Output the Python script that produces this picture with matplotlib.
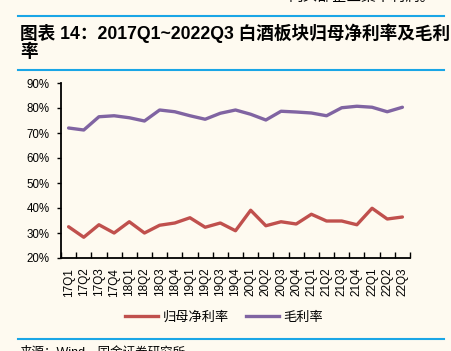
import matplotlib
matplotlib.use("Agg")
import matplotlib.pyplot as plt
from matplotlib.lines import Line2D
from matplotlib.ticker import FixedLocator, PercentFormatter

plt.rcParams['font.family'] = ['Liberation Sans', 'Noto Sans CJK SC', 'DejaVu Sans']

quarters = ["17Q1", "17Q2", "17Q3", "17Q4", "18Q1", "18Q2", "18Q3", "18Q4",
            "19Q1", "19Q2", "19Q3", "19Q4", "20Q1", "20Q2", "20Q3", "20Q4",
            "21Q1", "21Q2", "21Q3", "21Q4", "22Q1", "22Q2", "22Q3"]
net_margin = [32.5, 28.3, 33.3, 30.0, 34.5, 30.0, 33.1, 34.0, 36.1, 32.3, 34.0, 30.9,
              39.1, 32.9, 34.5, 33.6, 37.5, 34.8, 34.8, 33.3, 39.9, 35.6, 36.4]
gross_margin = [72.0, 71.2, 76.5, 76.9, 76.1, 74.8, 79.2, 78.5, 76.9, 75.5, 77.9, 79.2,
                77.5, 75.2, 78.7, 78.4, 78.0, 76.9, 80.1, 80.7, 80.3, 78.5, 80.3]
series_names = ["归母净利率", "毛利率"]
yticks = [20, 30, 40, 50, 60, 70, 80, 90]

bg = '#FEFAF0'
W, H = 452, 351
fig = plt.figure(figsize=(W / 100, H / 100), dpi=100, facecolor=bg)

ax = fig.add_axes([61 / W, 1 - 258 / H, 349 / W, 175 / H], facecolor=bg)
x = list(range(len(quarters)))
ax.plot(x, net_margin, color='#C0504D', lw=2.4, solid_capstyle='round')
ax.plot(x, gross_margin, color='#8064A2', lw=2.4, solid_capstyle='round')

ax.set_xlim(-0.5, len(quarters) - 0.5)
ax.set_ylim(20, 90)
ax.set_yticks(yticks)
ax.yaxis.set_major_formatter(PercentFormatter(decimals=0))
ax.set_xticks(x)
ax.set_xticklabels(quarters, rotation=90, fontsize=8.5)
ax.xaxis.set_minor_locator(FixedLocator([i - 0.5 for i in range(len(quarters) + 1)]))
ax.tick_params(axis='x', which='major', length=0, pad=7)
ax.tick_params(axis='x', which='minor', direction='in', length=4, width=1, color='black')
ax.tick_params(axis='y', direction='out', length=3, width=1, pad=5, labelsize=8.3)
for s in ['top', 'right']:
    ax.spines[s].set_visible(False)
for s in ['left', 'bottom']:
    ax.spines[s].set_linewidth(1.3)
    ax.spines[s].set_color('black')

handles = [Line2D([], [], color='#C0504D', lw=2.4), Line2D([], [], color='#8064A2', lw=2.4)]
fig.legend(handles, series_names, loc='center', bbox_to_anchor=(224 / W, 1 - 317 / H),
           ncol=2, frameon=False, handlelength=2.5, handletextpad=0.3, columnspacing=1.3,
           prop={'family': ['Noto Sans CJK SC'], 'size': 9.5})

blue = '#1AA6E6'
fig.add_artist(Line2D([18 / W, 444 / W], [1 - 16 / H, 1 - 16 / H], color=blue, lw=1.5))
fig.add_artist(Line2D([18 / W, 444 / W], [1 - 70 / H, 1 - 70 / H], color=blue, lw=1.5))
fig.add_artist(Line2D([18 / W, 444 / W], [1 - 339 / H, 1 - 339 / H], color=blue, lw=1.5))

fig.text(20 / W, 1 - 33 / H, "图表 14：2017Q1~2022Q3 白酒板块归母净利率及毛利",
         fontsize=12.7, fontweight='bold', va='center', ha='left',
         family=['Liberation Sans', 'Noto Sans CJK SC'])
fig.text(20 / W, 1 - 52 / H, "率", fontsize=12.7, fontweight='bold', va='center', ha='left',
         family=['Noto Sans CJK SC'])
fig.text(435 / W, 1 + 3 / H, "向头部企业集中利润。", fontsize=10.5, va='center', ha='right',
         family=['Noto Sans CJK SC'])
fig.text(20 / W, 1 - 352 / H, "来源：Wind，国金证券研究所", fontsize=9, va='center', ha='left',
         family=['Liberation Sans', 'Noto Sans CJK SC'])

fig.savefig("out.png", dpi=100, facecolor=bg)
